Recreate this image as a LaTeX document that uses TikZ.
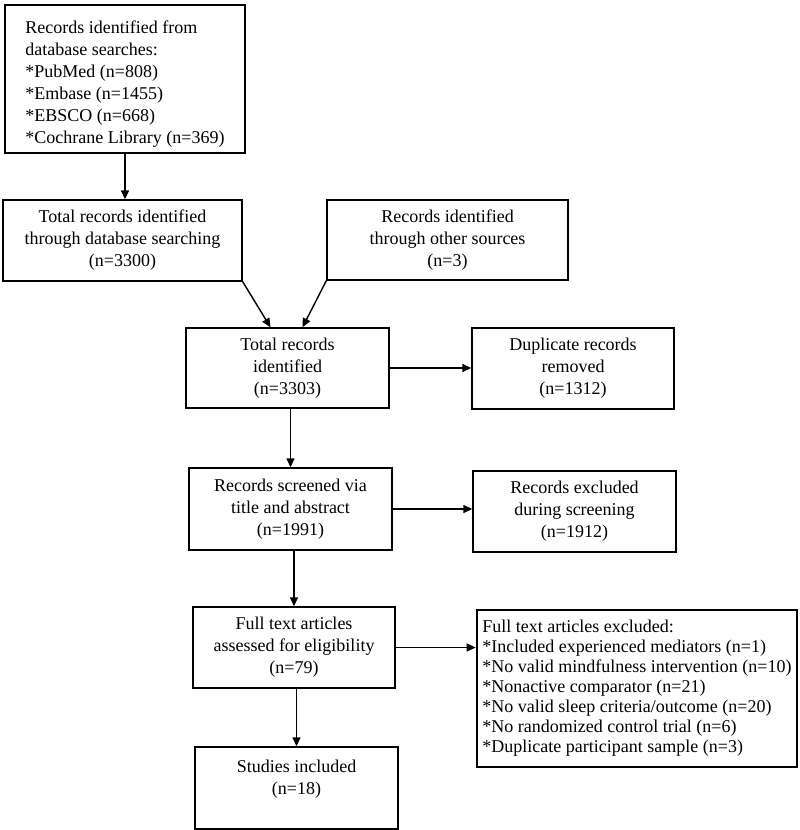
\documentclass[tikz,border=0pt]{standalone}
\usepackage{fontspec}
\setmainfont{Liberation Serif}
\usetikzlibrary{arrows.meta,calc}
\begin{document}
\begin{tikzpicture}[x=1pt,y=-1pt,
  box/.style={draw, line width=1.4pt, align=center, inner sep=0pt,
    font=\fontsize{18}{22}\selectfont},
  thickbox/.style={box, line width=2.6pt},
  arr/.style={line width=1.4pt, -{Triangle[length=9pt,width=8pt]}}]
\useasboundingbox[fill=white] (0,0) rectangle (800,830);

\node[thickbox, align=none, minimum width=240pt, minimum height=148pt] (B1) at (125,79)
  {\raisebox{-5pt}[\height][\depth]{\begin{tabular}{@{}l@{}}Records identified from\\database searches:\\{}*PubMed (n=808)\\{}*Embase (n=1455)\\{}*EBSCO (n=668)\\{}*Cochrane Library (n=369)\end{tabular}}};
\node[box, minimum width=239pt, minimum height=81pt] (B2) at (122.5,240.5)
  {Total records identified\\through database searching\\(n=3300)};
\node[box, minimum width=241pt, minimum height=80pt] (B3) at (447.5,240)
  {Records identified\\through other sources\\(n=3)};
\node[box, minimum width=203pt, minimum height=80pt] (B4) at (287.5,368)
  {Total records\\identified\\(n=3303)};
\node[box, minimum width=202pt, minimum height=81pt] (B5) at (573,368.5)
  {Duplicate records\\removed\\(n=1312)};
\node[box, minimum width=203pt, minimum height=82pt] (B6) at (290.5,509)
  {Records screened via\\title and abstract\\(n=1991)};
\node[box, minimum width=203pt, minimum height=81pt] (B7) at (574.5,511.5)
  {Records excluded\\during screening\\(n=1912)};
\node[box, minimum width=202pt, minimum height=81pt] (B8) at (294,647.5)
  {Full text articles\\assessed for eligibility\\(n=79)};
\node[thickbox, align=left, minimum width=320pt, minimum height=157pt,
  font=\fontsize{18}{20}\selectfont] (B9) at (637,688.5)
  {Full text articles excluded:\\*Included experienced mediators (n=1)\\*No valid mindfulness intervention (n=10)\\*Nonactive comparator (n=21)\\*No valid sleep criteria/outcome (n=20)\\*No randomized control trial (n=6)\\*Duplicate participant sample (n=3)};
\node[box, minimum width=203pt, minimum height=82pt] (B10) at (296.5,788)
  {Studies included\\(n=18)\\\mbox{}};

\draw[arr] (B1.south) -- (B1.south |- B2.north);
\draw[arr] (B2.south east) -- ($(B4.north)+(-17,0)$);
\draw[arr] (B3.south west) -- ($(B4.north)+(15,0)$);
\draw[arr] (B4.east) -- (B4.east -| B5.west);
\draw[arr] (B6.north |- B4.south) -- (B6.north);
\draw[arr] (B6.east) -- (B6.east -| B7.west);
\draw[arr] (B8.north |- B6.south) -- (B8.north);
\draw[arr] (B8.east) -- (B8.east -| B9.west);
\draw[arr] (B10.north |- B8.south) -- (B10.north);
\end{tikzpicture}
\end{document}
